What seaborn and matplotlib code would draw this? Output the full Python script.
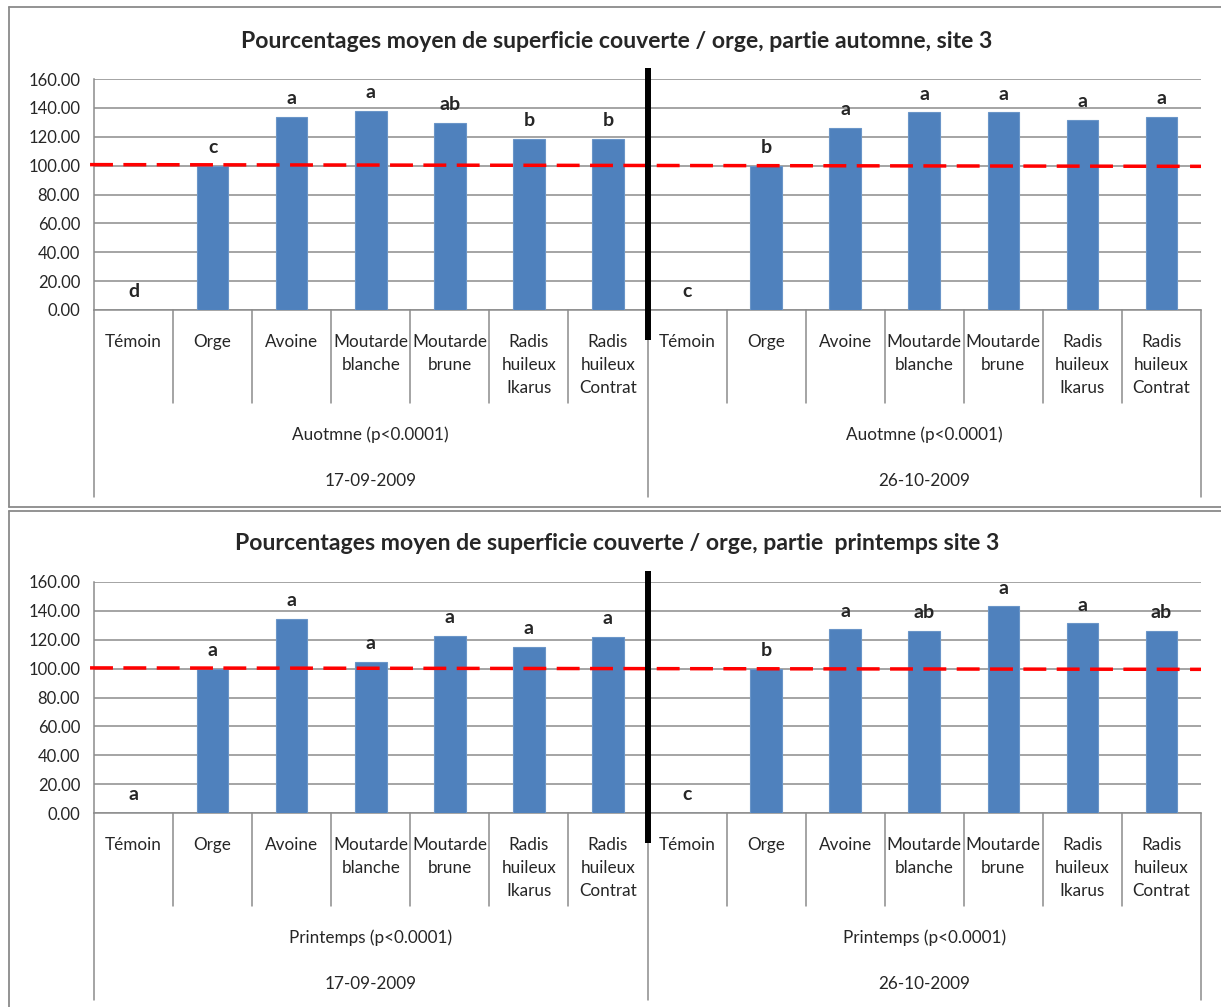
import numpy as np
import pandas as pd
import matplotlib
matplotlib.use("Agg")
import matplotlib.pyplot as plt
from matplotlib.lines import Line2D
import seaborn as sns

# ---- data -------------------------------------------------------------
treatments = ["Témoin", "Orge", "Avoine", "Moutarde\nblanche", "Moutarde\nbrune",
              "Radis\nhuileux\nIkarus", "Radis\nhuileux\nContrat"]
dates = ["17-09-2009", "26-10-2009"]

autumn_values = [
    [0.0, 100.0, 133.8, 138.0, 129.4, 118.5, 118.5],
    [0.0, 100.0, 126.1, 136.8, 136.8, 131.5, 133.6],
]
autumn_letters = [
    ["d", "c", "a", "a", "ab", "b", "b"],
    ["c", "b", "a", "a", "a", "a", "a"],
]
spring_values = [
    [0.0, 100.0, 134.5, 104.7, 122.7, 115.3, 121.8],
    [0.0, 100.0, 127.1, 126.0, 143.1, 131.3, 126.0],
]
spring_letters = [
    ["a", "a", "a", "a", "a", "a", "a"],
    ["c", "b", "a", "ab", "a", "a", "ab"],
]

panels = [
    dict(title="Pourcentages moyen de superficie couverte / orge, partie automne, site 3",
         season="Auotmne (p<0.0001)", values=autumn_values, letters=autumn_letters,
         ref=(100.7, 99.5)),
    dict(title="Pourcentages moyen de superficie couverte / orge, partie  printemps site 3",
         season="Printemps (p<0.0001)", values=spring_values, letters=spring_letters,
         ref=(100.5, 99.5)),
]

yticks = [0, 20, 40, 60, 80, 100, 120, 140, 160]

# ---- style ------------------------------------------------------------
sns.set_style("white")
plt.rcParams["font.family"] = ["Lato", "DejaVu Sans"]

W, H = 1221, 1007
fig = plt.figure(figsize=(W / 100, H / 100), dpi=100)
fig.patch.set_facecolor("white")

BAR = "#4F81BD"
GRID = "#8C8C8C"
AX_GRAY = "#8C8C8C"
LABEL_FS = 12.3


def fx(px):
    return px / W


def fy(py):
    return 1 - py / H


# panel frames (chart area borders)
for top, bottom in [(7, 507), (511, 1010)]:
    for xs, ys in [([8.5, 8.5], [top, bottom]), ([8.5, 1225], [top, top]), ([8.5, 1225], [bottom, bottom])]:
        fig.add_artist(Line2D([fx(x) for x in xs], [fy(y) for y in ys],
                              color="#8A8A8A", lw=1.3))

plot_left, plot_right = 94, 1201
plot_h = 231
panel_tops = [79, 582]
title_y = [41, 544]

for p, ptop, ty in zip(panels, panel_tops, title_y):
    keys, vals, lets, labels, groups = [], [], [], [], []
    for g, date in enumerate(dates):
        for t, name in enumerate(treatments):
            keys.append(f"{date}|{t}")
            vals.append(p["values"][g][t])
            lets.append(p["letters"][g][t])
            labels.append(name)
            groups.append(date)
    df = pd.DataFrame({"key": keys, "value": vals, "letter": lets})

    ax = fig.add_axes([fx(plot_left), fy(ptop + plot_h),
                       fx(plot_right - plot_left), plot_h / H])
    sns.barplot(data=df, x="key", y="value", order=keys, color=BAR,
                saturation=1, width=0.4, edgecolor="#6A95C8", linewidth=0.8,
                errorbar=None, ax=ax, zorder=3)

    ax.set_xlim(-0.5, len(keys) - 0.5)
    ax.set_ylim(0, 160)
    ax.set_yticks(yticks)
    ax.set_yticklabels([f"{v:.2f}" for v in yticks], fontsize=12)
    ax.yaxis.grid(True, color=GRID, lw=1.1, zorder=0)
    ax.set_axisbelow(True)
    ax.set_xticks([])
    ax.set_xlabel("")
    ax.set_ylabel("")
    for s in ["top", "right"]:
        ax.spines[s].set_visible(False)
    for s in ["left", "bottom"]:
        ax.spines[s].set_color(AX_GRAY)
        ax.spines[s].set_linewidth(1.1)
    ax.tick_params(axis="y", length=6, width=1.1, color=AX_GRAY, pad=4)

    # significance letters above each bar
    for i, (v, l) in enumerate(zip(vals, lets)):
        ax.annotate(l, (i, v), xytext=(0, 7), textcoords="offset points",
                    ha="center", va="bottom", fontsize=14, fontweight="bold")

    # reference line at 100 %
    ax.plot([-0.55, len(keys) - 0.5], list(p["ref"]), color="#FF0000", lw=2.5,
            dashes=(6.6, 3.0), zorder=5, clip_on=False)

    # multi-level category axis
    tr = ax.get_xaxis_transform()
    n = len(treatments)
    for k in range(len(keys) + 1):
        xb = k - 0.5
        depth = 187 if k % n == 0 else 93
        ax.plot([xb, xb], [0, -depth / plot_h], transform=tr, color=AX_GRAY,
                lw=1.1, clip_on=False)
    for i, name in enumerate(labels):
        for j, line in enumerate(name.split("\n")):
            ax.text(i, -(32 + 23 * j) / plot_h, line, transform=tr,
                    ha="center", va="center", fontsize=LABEL_FS)
    for g, date in enumerate(dates):
        xc = g * n + (n - 1) / 2
        ax.text(xc, -125 / plot_h, p["season"], transform=tr,
                ha="center", va="center", fontsize=LABEL_FS)
        ax.text(xc, -171 / plot_h, date, transform=tr,
                ha="center", va="center", fontsize=LABEL_FS)

    # thick separator between the two dates
    ax.plot([n - 0.5, n - 0.5], [-30 / plot_h, 1 + 11 / plot_h], transform=tr,
            color="black", lw=4.3, clip_on=False, zorder=6, solid_capstyle="butt")

    fig.text(fx(617), fy(ty), p["title"], ha="center", va="center",
             fontsize=16.6, fontweight="bold")

fig.savefig("out.png", dpi=100)
